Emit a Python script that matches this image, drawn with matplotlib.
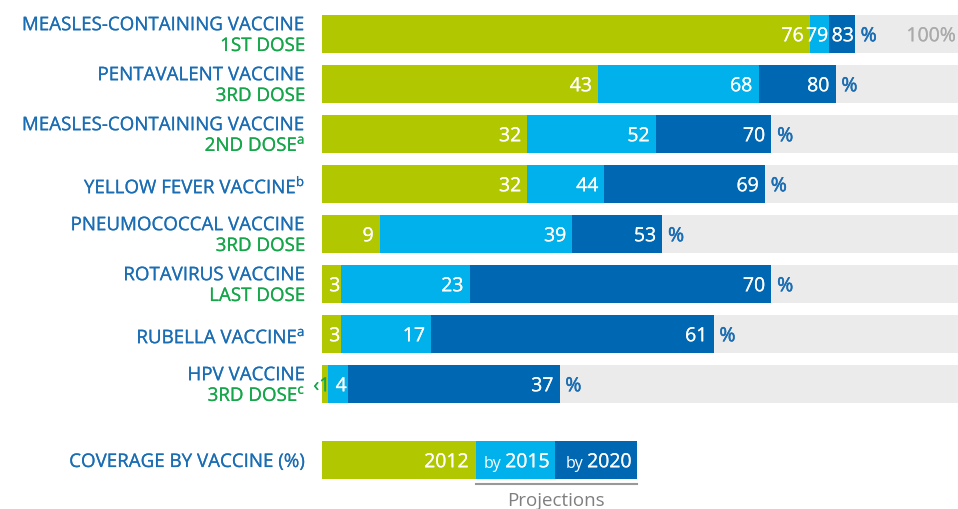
import matplotlib.pyplot as plt
import matplotlib.patheffects as pe
import numpy as np

plt.rcParams['font.family'] = ['Open Sans', 'DejaVu Sans']
plt.rcParams['mathtext.fontset'] = 'custom'
plt.rcParams['mathtext.rm'] = 'Open Sans'

# data
names = ["MEASLES-CONTAINING VACCINE", "PENTAVALENT VACCINE", "MEASLES-CONTAINING VACCINE",
         "YELLOW FEVER VACCINE$^{\\mathrm{b}}$", "PNEUMOCOCCAL VACCINE", "ROTAVIRUS VACCINE",
         "RUBELLA VACCINE$^{\\mathrm{a}}$", "HPV VACCINE"]
doses = ["1ST DOSE", "3RD DOSE", "2ND DOSE$^{\\mathrm{a}}$", "", "3RD DOSE", "LAST DOSE", "",
         "3RD DOSE$^{\\mathrm{c}}$"]
v2012 = [76, 43, 32, 32, 9, 3, 3, 1]
v2015 = [79, 68, 52, 44, 39, 23, 17, 4]
v2020 = [83, 80, 70, 69, 53, 70, 61, 37]
lab2012 = ["76", "43", "32", "32", "9", "3", "3", "<1"]

c_green = "#b1c800"
c_light = "#00b1eb"
c_dark = "#0068b3"
c_grey = "#ebebeb"
c_txt = "#1a6db3"
c_txtg = "#15a64a"


def thick(c, w=0.15):
    return [pe.withStroke(linewidth=w, foreground=c)]


fig = plt.figure(figsize=(9.58, 5.10), dpi=100)
ax = fig.add_axes([322/958, 0, 642/958, 1])
ax.set_xlim(0, 100)
ax.set_ylim(9.5, -0.7)
ax.axis('off')

h = 0.75
y = np.arange(len(names))
ax.barh(y, 100, height=h, color=c_grey, clip_on=False)
ax.barh(y, v2020, height=h, color=c_dark)
ax.barh(y, v2015, height=h, color=c_light)
ax.barh(y, v2012, height=h, color=c_green)

fs = 14
lfs = 13.5
lx = -2.6
nb = 0.145  # baseline offset of numbers
for i in range(len(names)):
    # numbers inside segments
    segs = [(0, v2012[i], lab2012[i]), (v2012[i], v2015[i], str(v2015[i])),
            (v2015[i], v2020[i], str(v2020[i]))]
    for a, b, t in segs:
        if t == "<1":
            ax.text(b + 0.3, i + nb, "‹1", color=c_txtg, fontsize=fs, ha='right',
                    va='baseline', path_effects=thick(c_txtg))
            continue
        pad = 0.15 if b - a < 6 else 0.95
        ax.text(b - pad, i + nb, t, color='white', fontsize=fs, ha='right', va='baseline',
                path_effects=thick('white'))
    ax.text(v2020[i] + 0.9, i + nb, "%", color=c_txt, fontsize=fs, ha='left', va='baseline',
            path_effects=thick(c_txt, 0.4))
    # category labels
    if doses[i]:
        ax.text(lx, i - 0.076, names[i], color=c_txt, fontsize=lfs, ha='right',
                va='baseline', path_effects=thick(c_txt))
        ax.text(lx, i + 0.34, doses[i], color=c_txtg, fontsize=lfs, ha='right',
                va='baseline', path_effects=thick(c_txtg))
    else:
        ax.text(lx, i + 0.186, names[i], color=c_txt, fontsize=lfs, ha='right',
                va='baseline', path_effects=thick(c_txt))

ax.text(98.8, nb, "100%", color="#aaaaaa", fontsize=fs, ha='right', va='baseline',
        path_effects=thick("#aaaaaa"))

# legend bar
ly = 8.52
ax.barh(ly, 24, height=h, color=c_green)
ax.barh(ly, 12.3, left=24, height=h, color=c_light)
ax.barh(ly, 12.8, left=36.3, height=h, color=c_dark)
ax.text(22.9, ly + nb, "2012", color='white', fontsize=fs, ha='right', va='baseline',
        path_effects=thick('white'))
r = fig.canvas.get_renderer()
for xr, yr in [(35.5, "2015"), (48.3, "2020")]:
    t = ax.text(xr, ly + nb, yr, color='white', fontsize=fs, ha='right', va='baseline',
                path_effects=thick('white'))
    bb = t.get_window_extent(renderer=r)
    ax.annotate("by", xy=(bb.x0, bb.y0), xycoords='figure pixels',
                xytext=(-3, 0), textcoords='offset points', color='white', fontsize=11.5,
                ha='right', va='bottom', annotation_clip=False)
ax.text(lx, ly + 0.14, "COVERAGE BY VACCINE (%)", color=c_txt, fontsize=lfs, ha='right',
        va='baseline', path_effects=thick(c_txt))
ax.plot([24, 49.1], [9.0, 9.0], color="#999999", lw=1.5, clip_on=False)
ax.text(36.5, 9.32, "Projections", color="#7f7f7f", fontsize=13.5, ha='center', va='center')

fig.savefig("out.png", dpi=100)
